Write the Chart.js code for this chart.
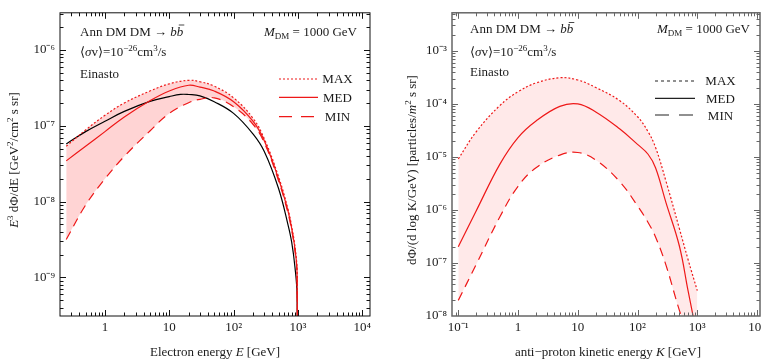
<!DOCTYPE html>
<html>
<head>
<meta charset="utf-8">
<script src="https://cdn.jsdelivr.net/npm/chart.js@4.4.1/dist/chart.umd.min.js"></script>
<style>
html, body { margin: 0; padding: 0; background: #fff; overflow: hidden; }
#wrap { position: relative; width: 761px; height: 363px; overflow: hidden; }
canvas { position: absolute; top: 0; }
#left { left: 0; }
#right { left: 380px; }
</style>
</head>
<body>
<div id="wrap">
<canvas id="left" width="380" height="363"></canvas>
<canvas id="right" width="400" height="363"></canvas>
</div>
<script>
// electrons, E^3 dPhi/dE
const electronE = [0.25, 0.5, 1, 2, 5, 10, 20, 30, 50, 100, 200, 300, 500, 700, 800, 900, 970, 1000];
const electronMax = [5.38e-8, 8.82e-8, 1.375e-7, 2.0e-7, 2.88e-7, 3.58e-7, 3.99e-7, 3.82e-7, 3.34e-7, 2.34e-7, 1.26e-7, 6.76e-8, 2.13e-8, 8.0e-9, 4.7e-9, 2.52e-9, 1.2e-9, 1e-12];
const electronMed = [3.45e-8, 5.38e-8, 8.39e-8, 1.31e-7, 2.14e-7, 2.88e-7, 3.43e-7, 3.24e-7, 2.88e-7, 2.08e-7, 1.15e-7, 6.37e-8, 2.0e-8, 7.55e-9, 4.43e-9, 2.38e-9, 1.13e-9, 1e-12];
const electronMin = [3.17e-9, 9.0e-9, 2.0e-8, 3.96e-8, 8.56e-8, 1.46e-7, 2.02e-7, 2.24e-7, 2.34e-7, 1.79e-7, 1.05e-7, 6.0e-8, 1.89e-8, 7.1e-9, 4.18e-9, 2.24e-9, 1.07e-9, 1e-12];
const blackE = [0.25, 0.5, 1, 2, 5, 10, 15, 20, 30, 50, 100, 200, 300, 500, 700, 800, 900, 970, 990];
const electronBlack = [5.77e-8, 8.39e-8, 1.15e-7, 1.55e-7, 2.10e-7, 2.43e-7, 2.6e-7, 2.59e-7, 2.49e-7, 2.08e-7, 1.46e-7, 7.83e-8, 4.59e-8, 1.49e-8, 4.99e-9, 2.92e-9, 1.36e-9, 5.7e-10, 1e-12];

// anti-protons, dPhi/dlogK
const protonK = [0.1, 0.2, 0.5, 1, 2, 5, 10, 20, 50, 100, 150, 200, 300, 500, 700, 1000];
const protonMax = [9.12e-6, 2.98e-5, 9.35e-5, 1.69e-4, 2.47e-4, 3.10e-4, 2.81e-4, 2.03e-4, 1.15e-4, 5.7e-5, 2.98e-5, 1.51e-5, 3.44e-6, 4.5e-7, 1.16e-7, 3.0e-8];
const protonMed = [2.02e-7, 9.66e-7, 7.38e-6, 2.31e-5, 4.74e-5, 8.95e-5, 9.96e-5, 7.03e-5, 3.38e-5, 1.72e-5, 1.12e-5, 6.22e-6, 1.36e-6, 2.11e-7, 3.0e-8, 4e-9];
const protonMin = [1.97e-8, 9.4e-8, 7.5e-7, 2.79e-6, 6.22e-6, 1.08e-5, 1.21e-5, 8.73e-6, 3.44e-6, 1.19e-6, 5.8e-7, 3.08e-7, 9.0e-8, 1.29e-8, 4.5e-9, 1.3e-9];

const legendNames = ['MAX', 'MED', 'MIN'];
const leftX = [0.2, 13200], leftY = [3.1e-10, 3.1e-6];
const rightX = [0.0785, 11200], rightY = [1e-8, 5.2e-3];

const RED = 'rgb(238,24,24)';
const SERIF = '"Liberation Serif", "Times New Roman", serif';
const SUP = {'-': '⁻', '0': '⁰', '1': '¹', '2': '²', '3': '³', '4': '⁴', '5': '⁵', '6': '⁶', '7': '⁷', '8': '⁸', '9': '⁹'};

const pts = (xs, ys) => xs.map((x, i) => ({x: x, y: ys[i]}));

function tickKind(v) {
  const e = Math.floor(Math.log10(v) + 1e-9);
  const m = v / Math.pow(10, e);
  const r = Math.round(m);
  if (Math.abs(m - r) > 1e-6 * m) return 0;
  return (r === 1 || r === 10) ? 2 : 1;
}

function tickLabel(v) {
  if (tickKind(v) !== 2) return '';
  const e = Math.round(Math.log10(v));
  if (e === 0) return '1';
  if (e === 1) return '10';
  return '10' + String(e).split('').map(c => SUP[c]).join('');
}

function drawRich(ctx, segs, x, y, align) {
  const font = s => {
    const small = s === 'sup' || s === 'sub';
    const it = s === 'i' || s === 'ibar';
    return (it ? 'italic ' : '') + (small ? 9 : 13) + 'px ' + SERIF;
  };
  let w = 0;
  segs.forEach(([t, s]) => { ctx.font = font(s); w += ctx.measureText(t).width; });
  let cx = align === 'right' ? x - w : align === 'center' ? x - w / 2 : x;
  ctx.textAlign = 'left';
  ctx.textBaseline = 'alphabetic';
  segs.forEach(([t, s]) => {
    ctx.font = font(s);
    const dy = s === 'sup' ? -5 : s === 'sub' ? 3 : 0;
    ctx.fillText(t, cx, y + dy);
    const tw = ctx.measureText(t).width;
    if (s === 'ibar') {
      ctx.beginPath();
      ctx.lineWidth = 0.8;
      ctx.moveTo(cx + 2, y - 10.5);
      ctx.lineTo(cx + tw + 1, y - 10.5);
      ctx.stroke();
    }
    cx += tw;
  });
}

function decoPlugin(d) {
  return {
    id: 'deco',
    afterDatasetsDraw(chart) {
      const ctx = chart.ctx, a = chart.chartArea;
      ctx.save();
      ctx.strokeStyle = d.frame;
      ctx.lineWidth = d.frameWidth;
      ctx.strokeRect(a.left, a.top, a.right - a.left, a.bottom - a.top);
      ctx.lineWidth = 1;
      for (const id of ['x', 'y']) {
        const s = chart.scales[id];
        for (const t of s.ticks) {
          const k = tickKind(t.value);
          if (!k) continue;
          const len = k === 2 ? 6 : 3.5;
          const p = Math.round(s.getPixelForValue(t.value)) + 0.5;
          ctx.beginPath();
          if (id === 'x') {
            if (p <= a.left + 1 || p >= a.right - 1) continue;
            ctx.moveTo(p, a.bottom); ctx.lineTo(p, a.bottom - len);
            ctx.moveTo(p, a.top); ctx.lineTo(p, a.top + len);
          } else {
            if (p <= a.top + 1 || p >= a.bottom - 1) continue;
            ctx.moveTo(a.left, p); ctx.lineTo(a.left + len, p);
            ctx.moveTo(a.right, p); ctx.lineTo(a.right - len, p);
          }
          ctx.stroke();
        }
      }
      // legend
      const L = d.legend;
      legendNames.forEach((name, i) => {
        const ds = chart.data.datasets[i];
        ctx.beginPath();
        ctx.strokeStyle = L.color || ds.borderColor;
        ctx.lineWidth = 1.2;
        ctx.setLineDash(L.dashes[i]);
        ctx.moveTo(L.x0, L.lineY[i]);
        ctx.lineTo(L.x1, L.lineY[i]);
        ctx.stroke();
        ctx.setLineDash([]);
        ctx.fillStyle = '#1a1a1a';
        drawRich(ctx, [[name, '']], L.textX, L.textY[i], 'center');
      });
      ctx.fillStyle = '#1a1a1a';
      ctx.strokeStyle = '#1a1a1a';
      for (const t of d.texts) {
        if (t.rot) {
          ctx.save();
          ctx.translate(t.x, t.y);
          ctx.rotate(-Math.PI / 2);
          drawRich(ctx, t.segs, 0, 4.5, 'center');
          ctx.restore();
        } else {
          drawRich(ctx, t.segs, t.x, t.y, t.align || 'left');
        }
      }
      ctx.restore();
    }
  };
}

function axis(range, fit) {
  return {
    type: 'logarithmic',
    min: range[0],
    max: range[1],
    grid: {display: false, drawTicks: false},
    border: {display: false},
    afterFit: fit,
    ticks: {
      autoSkip: false,
      maxRotation: 0,
      minRotation: 0,
      padding: 4,
      color: '#1a1a1a',
      font: {family: SERIF, size: 13},
      callback: v => tickLabel(v)
    }
  };
}

function line(data, color, dash, extra) {
  return Object.assign({
    data: data,
    borderColor: color,
    borderWidth: 1.2,
    borderDash: dash,
    pointRadius: 0,
    tension: 0.4,
    fill: false
  }, extra || {});
}

function makeChart(id, datasets, xr, yr, yWidth, padRight, deco) {
  const xa = axis(xr, s => { s.height = 47; });
  const ya = axis(yr, s => { s.width = yWidth; });
  ya.ticks.padding = 5;
  return new Chart(document.getElementById(id), {
    type: 'line',
    data: {datasets: datasets},
    options: {
      responsive: false,
      animation: false,
      devicePixelRatio: 1,
      layout: {padding: {top: 5, right: padRight, bottom: 0, left: 0}},
      scales: {x: xa, y: ya},
      plugins: {legend: {display: false}, tooltip: {enabled: false}, filler: {drawTime: 'beforeDatasetsDraw'}}
    },
    plugins: [decoPlugin(deco)]
  });
}

const annText = [['Ann DM DM → ', ''], ['b', 'i'], ['b', 'ibar']];
const sigmaText = [['⟨', ''], ['σ', 'i'], ['v', ''], ['⟩=10', ''], ['−26', 'sup'], ['cm', ''], ['3', 'sup'], ['/s', '']];
const massText = [['M', 'i'], ['DM', 'sub'], [' = 1000 GeV', '']];

makeChart('left', [
  line(pts(electronE, electronMax), RED, [2, 2], {fill: '+2', backgroundColor: 'rgb(255,212,212)'}),
  line(pts(electronE, electronMed), RED, []),
  line(pts(electronE, electronMin), RED, [9, 6]),
  line(pts(blackE, electronBlack), '#000', [])
], leftX, leftY, 60, 10, {
  frame: '#111', frameWidth: 1,
  legend: {x0: 279, x1: 318, textX: 337.5, lineY: [79, 97.3, 116.7], textY: [83, 101.5, 121], dashes: [[2, 2], [], [13, 9]]},
  texts: [
    {segs: annText, x: 80, y: 35.5},
    {segs: sigmaText, x: 80, y: 56},
    {segs: [['Einasto', '']], x: 80, y: 77.5},
    {segs: massText, x: 357, y: 35.5, align: 'right'},
    {segs: [['Electron energy ', ''], ['E', 'i'], [' [GeV]', '']], x: 215, y: 356, align: 'center'},
    {segs: [['E', 'i'], ['3', 'sup'], [' dΦ/dE [GeV', ''], ['2', 'sup'], ['/cm', ''], ['2', 'sup'], [' s sr]', '']], x: 13, y: 160, rot: true}
  ]
});

makeChart('right', [
  line(pts(protonK, protonMax), RED, [2, 2], {fill: '+2', backgroundColor: 'rgb(255,233,233)'}),
  line(pts(protonK, protonMed), RED, []),
  line(pts(protonK, protonMin), RED, [9, 6])
], rightX, rightY, 72, 20, {
  frame: '#666', frameWidth: 1.5,
  legend: {x0: 275, x1: 315, textX: 340.5, color: '#222', lineY: [81, 98.3, 115], textY: [85, 102.5, 119.5], dashes: [[3, 3], [], [14, 10]]},
  texts: [
    {segs: annText, x: 90, y: 33},
    {segs: sigmaText, x: 90, y: 56},
    {segs: [['Einasto', '']], x: 90, y: 76},
    {segs: massText, x: 370, y: 33, align: 'right'},
    {segs: [['anti−proton kinetic energy ', ''], ['K', 'i'], [' [GeV]', '']], x: 228, y: 356, align: 'center'},
    {segs: [['dΦ/(d log K/GeV) [particles/', ''], ['m', 'i'], ['2', 'sup'], [' s sr]', '']], x: 31, y: 170, rot: true}
  ]
});
</script>
</body>
</html>
